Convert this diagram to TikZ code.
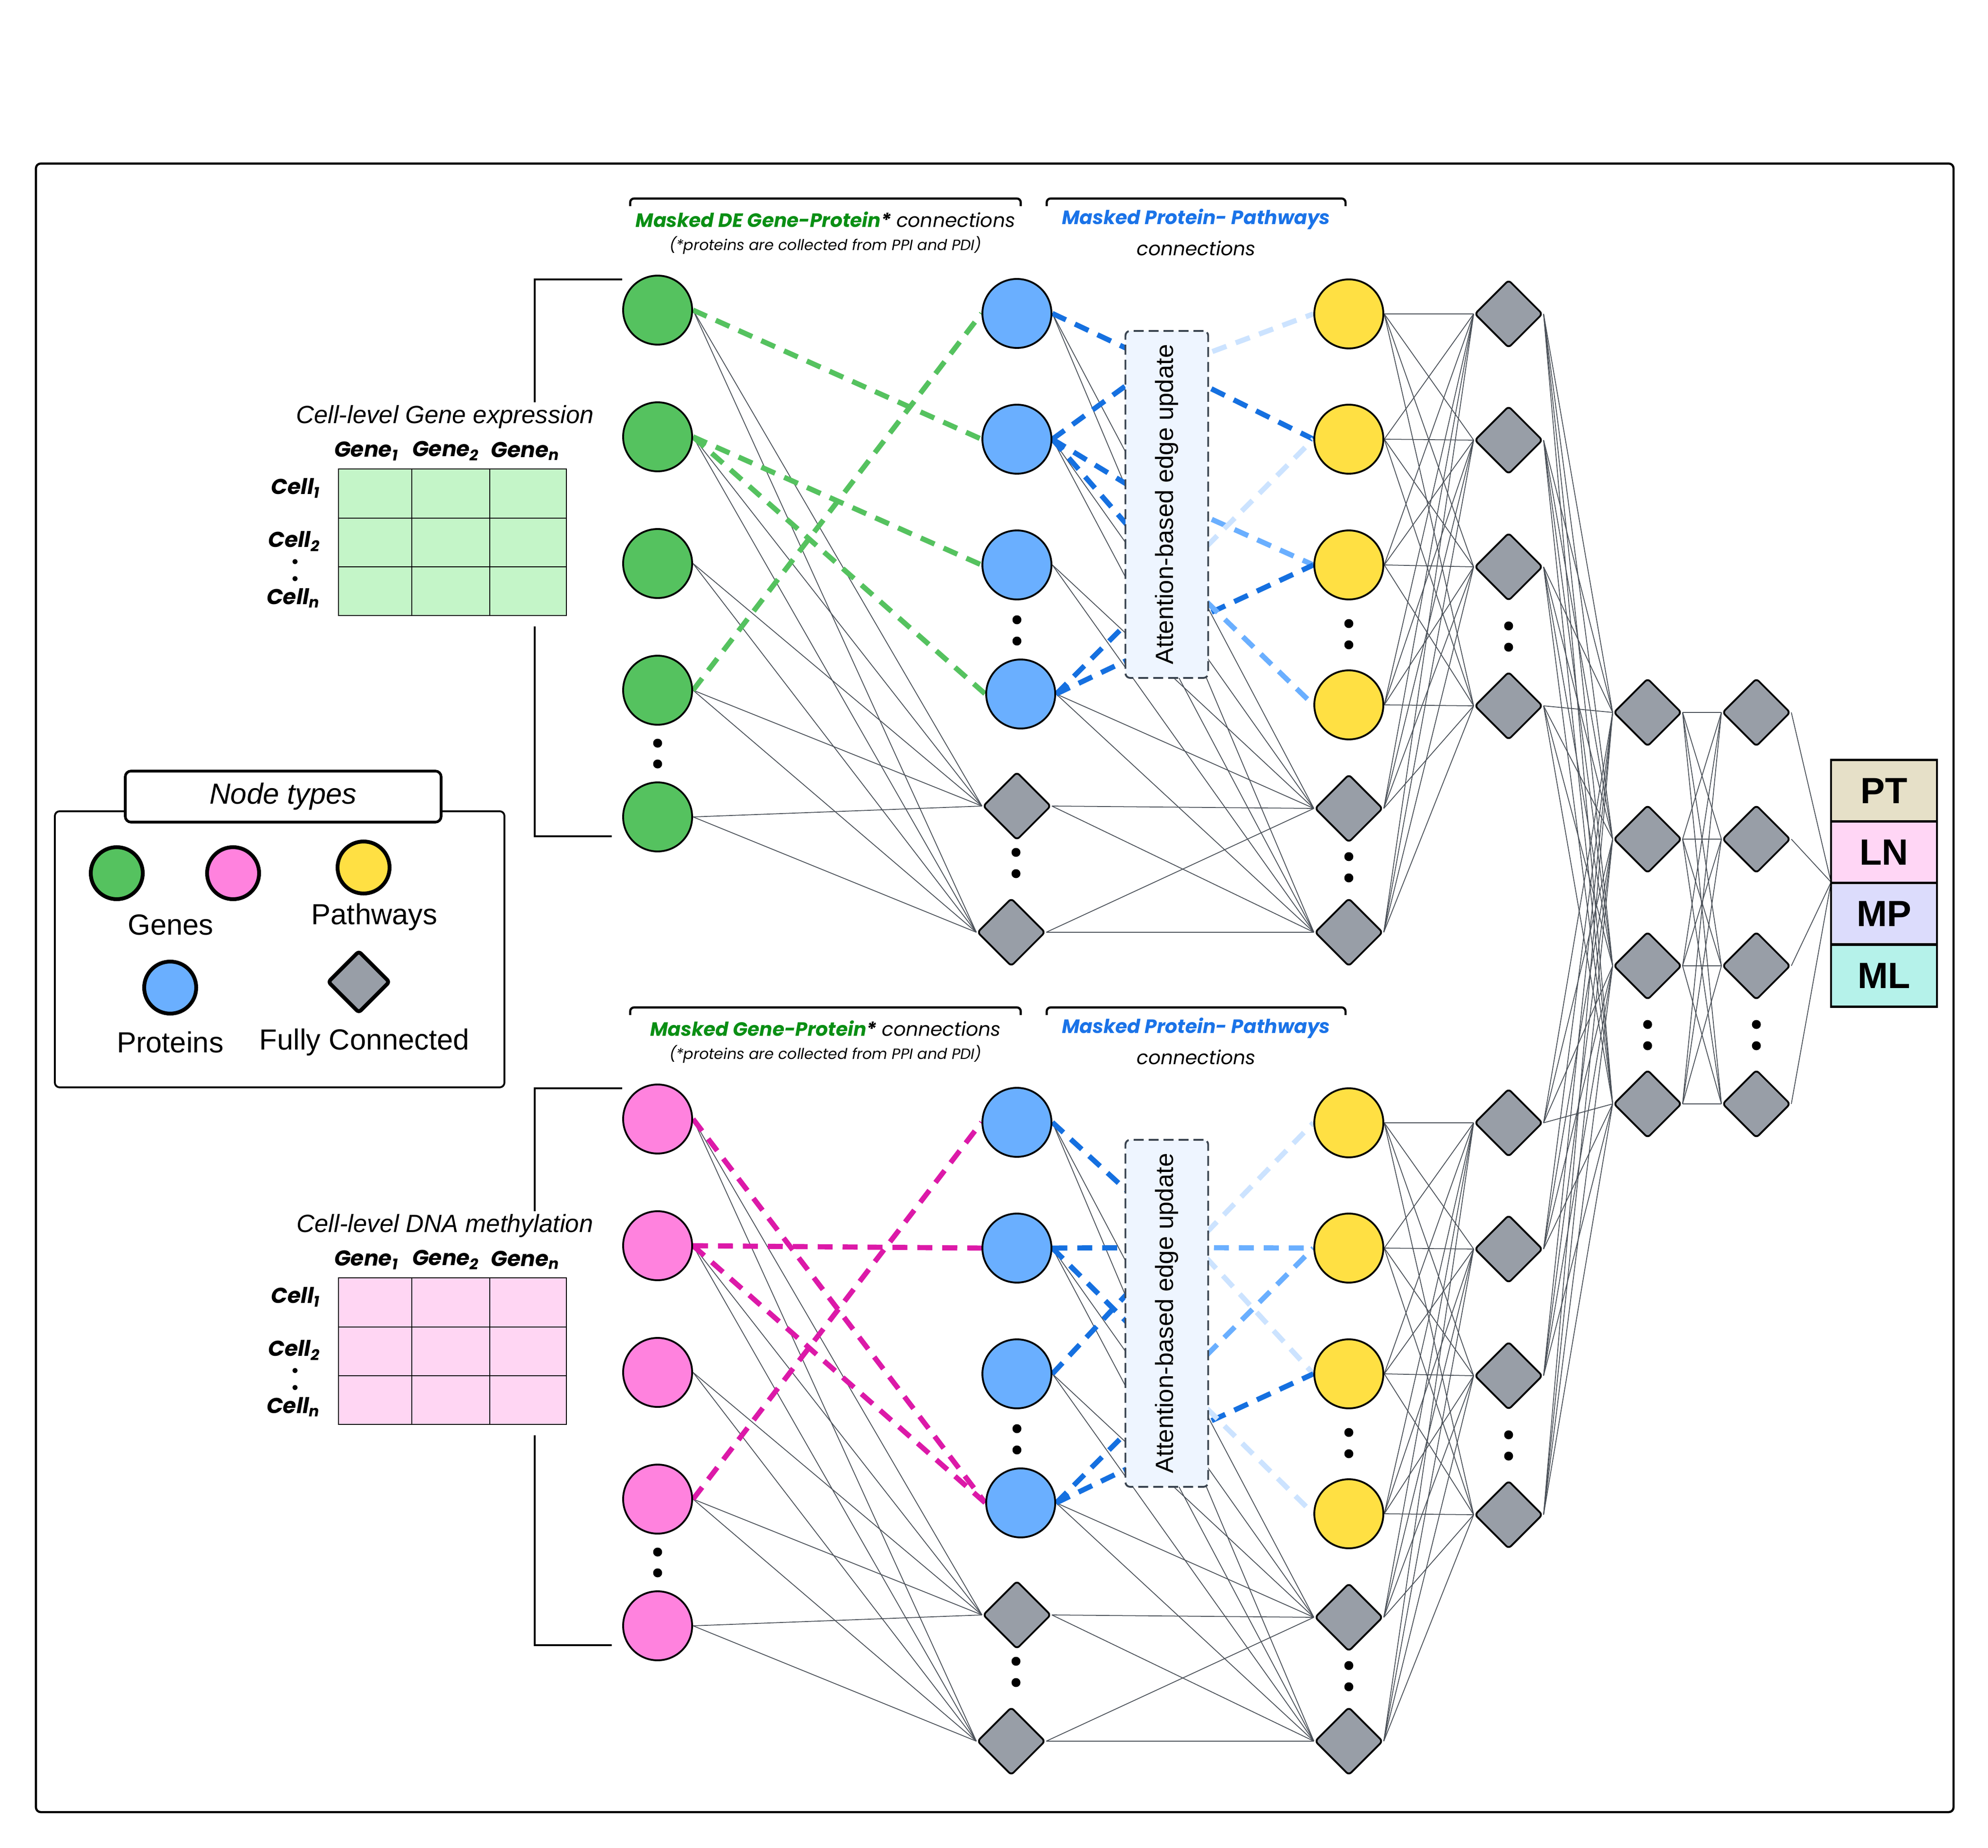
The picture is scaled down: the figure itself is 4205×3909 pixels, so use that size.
\documentclass[tikz,border=0pt]{standalone}
\usepackage{fontspec}
\setmainfont{Liberation Sans}
\newfontfamily\popf{Poppins}
\usetikzlibrary{shapes.geometric}
\pgfdeclarelayer{bg}
\pgfsetlayers{bg,main}
\definecolor{genegreen}{HTML}{55C25F}
\definecolor{genepink}{HTML}{FF82DE}
\definecolor{protblue}{HTML}{6AAFFF}
\definecolor{pathyel}{HTML}{FFE043}
\definecolor{fcgray}{HTML}{989EA7}
\definecolor{edgegray}{HTML}{4A5058}
\definecolor{dgreen}{HTML}{55C25F}
\definecolor{dpink}{HTML}{DC19A8}
\definecolor{bdark}{HTML}{1570E0}
\definecolor{bmed}{HTML}{6AAFFF}
\definecolor{blight}{HTML}{CCE3FF}
\definecolor{tgreen}{HTML}{0A8F14}
\definecolor{tblue}{HTML}{1A73E8}
\definecolor{attfill}{HTML}{EEF5FF}
\definecolor{attline}{HTML}{3A4450}
\definecolor{ptc}{HTML}{E6E0C8}
\definecolor{lnc}{HTML}{FFD6F5}
\definecolor{mpc}{HTML}{DCDCFC}
\definecolor{mlc}{HTML}{B5F2EA}
\definecolor{mgreen}{HTML}{C4F5C8}
\definecolor{mpink}{HTML}{FFD6F3}
\newcommand{\fsz}[1]{\fontsize{#1}{#1}\selectfont}
\tikzset{
  circ/.style={circle,draw=black,line width=1.1pt,minimum size=14.6mm,inner sep=0pt},
  fc/.style={diamond,draw=black,line width=1.1pt,fill=fcgray,minimum width=14.4mm,minimum height=14.4mm,inner sep=0pt,rounded corners=0.7mm},
  thinedge/.style={draw=edgegray,line width=0.5pt},
  maskedge/.style={line width=3.1pt,dash pattern=on 9pt off 6pt},
  ell/.style={circle,fill=black,inner sep=0pt,minimum size=1.9mm},
  cdot/.style={circle,fill=black,inner sep=0pt,minimum size=1.1mm},
  topbr/.style={line width=1.3pt,rounded corners=0.8mm},
  sidebr/.style={line width=1.1pt},
  att/.style={draw=attline,fill=attfill,line width=1.1pt,dash pattern=on 6pt off 3pt,rounded corners=1mm,minimum width=17.5mm,minimum height=73.4mm,inner sep=0pt},
  lbl/.style={inner sep=0pt},
  outcell/.style={draw=black,line width=1.3pt,minimum width=22.4mm,minimum height=13.05mm,inner sep=0pt,font=\fsz{22}\bfseries},
  legc/.style={circle,draw=black,line width=2.3pt,minimum size=11mm,inner sep=0pt},
  legd/.style={diamond,draw=black,line width=2.3pt,fill=fcgray,minimum width=13.2mm,minimum height=13.2mm,inner sep=0pt,rounded corners=0.6mm},
  legtxt/.style={inner sep=0pt,font=\fsz{17.5}},
  hdr/.style={inner sep=0pt,font=\popf\fsz{13}\bfseries\itshape},
}
\begin{document}
\begin{tikzpicture}[x=0.1mm,y=-0.1mm]
\useasboundingbox (0,0) rectangle (4205,3909);
\draw[line width=1.3pt,rounded corners=1mm] (76,346) rectangle (4132,3833);

% ---------- two sections ----------
\foreach \s/\o/\gc/\mc in {t/0/genegreen/mgreen,b/1711/genepink/mpink}{
\begin{scope}[shift={(0,\o)}]
  \foreach \i/\y in {1/656,2/924,3/1192,4/1460,5/1728}
    \node[circ,fill=\gc] (\s-g\i) at (1391,\y) {};
  \node[circ,fill=protblue] (\s-b1) at (2151,663) {};
  \node[circ,fill=protblue] (\s-b2) at (2151,929) {};
  \node[circ,fill=protblue] (\s-b3) at (2151,1195) {};
  \node[circ,fill=protblue] (\s-b4) at (2159,1468) {};
  \node[fc] (\s-pd1) at (2151,1705) {};
  \node[fc] (\s-pd2) at (2139,1972) {};
  \node[circ,fill=pathyel] (\s-y1) at (2853,664) {};
  \node[circ,fill=pathyel] (\s-y2) at (2853,929) {};
  \node[circ,fill=pathyel] (\s-y3) at (2853,1195) {};
  \node[circ,fill=pathyel] (\s-y4) at (2853,1491) {};
  \node[fc] (\s-y5) at (2853,1710) {};
  \node[fc] (\s-y6) at (2853,1972) {};
  \node[fc] (\s-c1) at (3191,664) {};
  \node[fc] (\s-c2) at (3191,931) {};
  \node[fc] (\s-c3) at (3191,1199) {};
  \node[fc] (\s-c4) at (3191,1493) {};
  % ellipsis dots
  \foreach \x/\ya/\yb in {1391/1572/1616,2151/1311/1356,2149/1803/1848,2853/1319/1364,2853/1812/1857,3191/1324/1369}{
    \node[ell] at (\x,\ya) {};
    \node[ell] at (\x,\yb) {};
  }
  % attention box
  \node[att] (\s-att) at (2468,1067) {};
  \node[rotate=90,inner sep=0pt,font=\fsz{15}] at (\s-att) {Attention-based edge update};
  % top brackets
  \draw[topbr] (1333,436) -- (1333,420) -- (2159,420) -- (2159,436);
  \draw[topbr] (2214,436) -- (2214,420) -- (2846,420) -- (2846,436);
  % side bracket
  \draw[sidebr] (1316,591) -- (1131,591) -- (1131,851);
  \draw[sidebr] (1131,1325) -- (1131,1769) -- (1294,1769);
  % matrix
  \draw[line width=0.6pt,fill=\mc] (716,992) rectangle (1198,1302);
  \draw[line width=0.6pt] (871,992) -- (871,1302) (1036,992) -- (1036,1302)
        (716,1096) -- (1198,1096) (716,1199) -- (1198,1199);
  \node[hdr] at (775,954) {Gene\textsubscript{1}};
  \node[hdr] at (943,954) {Gene\textsubscript{2}};
  \node[hdr] at (1111,954) {Gene\textsubscript{n}};
  \node[hdr,anchor=east] at (678,1033) {Cell\textsubscript{1}};
  \node[hdr,anchor=east] at (678,1145) {Cell\textsubscript{2}};
  \node[hdr,anchor=east] at (678,1265) {Cell\textsubscript{n}};
  \node[cdot] at (624,1188) {};
  \node[cdot] at (624,1224) {};
  % titles
  \node[lbl,font=\popf\fsz{9}\itshape] at (1746,519) {(*proteins are collected from PPI and PDI)};
  \node[lbl,font=\popf\fsz{11.6}\bfseries\itshape,text=tblue] at (2530,464) {Masked Protein- Pathways};
  \node[lbl,font=\popf\fsz{11.6}\itshape] at (2530,525) {connections};
\end{scope}
}

% section specific texts
\node[lbl,font=\popf\fsz{11.6}] at (1746,464) {{\bfseries\itshape\color{tgreen}Masked DE Gene-Protein}{\bfseries\itshape *} \textit{connections}};
\node[lbl,font=\popf\fsz{11.6}] at (1746,2175) {{\bfseries\itshape\color{tgreen}Masked Gene-Protein}{\bfseries\itshape *} \textit{connections}};
\node[lbl,font=\fsz{15}\itshape] at (941,882) {Cell-level Gene expression};
\node[lbl,font=\fsz{15}\itshape] at (941,2593) {Cell-level DNA methylation};

% right part
\foreach \i/\y in {1/1507,2/1775,3/2043,4/2335}{
  \node[fc] (k\i) at (3485,\y) {};
  \node[fc] (m\i) at (3715,\y) {};
}
\foreach \x in {3485,3715}{
  \node[ell] at (\x,2167) {};
  \node[ell] at (\x,2212) {};
}
\node[outcell,fill=ptc] (pt) at (3985,1673) {PT};
\node[outcell,fill=lnc] (ln) at (3985,1803) {LN};
\node[outcell,fill=mpc] (mp) at (3985,1932.5) {MP};
\node[outcell,fill=mlc] (ml) at (3985,2064) {ML};
\coordinate (outw) at (3873,1866);

% legend
\draw[line width=1.1pt,rounded corners=1mm] (116,1716) rectangle (1067,2300);
\node[draw,line width=1.6pt,rounded corners=1.2mm,fill=white,minimum width=66.8mm,minimum height=10.8mm,inner sep=0pt,font=\fsz{17.5}\itshape] (legtitle) at (599,1685) {Node types};
\node[legc,fill=genegreen] (lg) at (247,1847) {};
\node[legc,fill=genepink] (lp) at (493,1847) {};
\node[legc,fill=pathyel] (ly) at (769,1835) {};
\node[legc,fill=protblue] (lb) at (360,2089) {};
\node[legd] (ld) at (759,2077) {};
\node[legtxt] at (361,1956) {Genes};
\node[legtxt] at (792,1940) {Pathways};
\node[legtxt] at (360,2205) {Proteins};
\node[legtxt] at (771,2205) {Fully Connected};

% ---------- edges ----------
\begin{pgfonlayer}{bg}
\foreach \s in {t,b}{
  \foreach \i in {1,...,5}{
    \draw[thinedge] (\s-g\i.east) -- (\s-pd1.west);
    \draw[thinedge] (\s-g\i.east) -- (\s-pd2.west);
  }
  \foreach \i in {1,...,4}{
    \draw[thinedge] (\s-b\i.east) -- (\s-y5.west);
    \draw[thinedge] (\s-b\i.east) -- (\s-y6.west);
  }
  \foreach \i in {1,2}{
    \draw[thinedge] (\s-pd\i.east) -- (\s-y5.west);
    \draw[thinedge] (\s-pd\i.east) -- (\s-y6.west);
  }
  \foreach \i in {1,...,6}{
    \foreach \j in {1,...,4}{
      \draw[thinedge] (\s-y\i.east) -- (\s-c\j.west);
    }
  }
  \foreach \i in {1,...,4}{
    \foreach \j in {1,...,4}{
      \draw[thinedge] (\s-c\i.east) -- (k\j.west);
    }
  }
}
\foreach \i in {1,...,4}{
  \foreach \j in {1,...,4}{
    \draw[thinedge] (k\i.east) -- (m\j.west);
  }
  \draw[thinedge] (m\i.east) -- (outw);
}

% masked gene-protein edges
\draw[maskedge,dgreen] (t-g1.east) -- (t-b2.west);
\draw[maskedge,dgreen] (t-g2.east) -- (t-b3.west);
\draw[maskedge,dgreen] (t-g2.east) -- (t-b4.west);
\draw[maskedge,dgreen] (t-g4.east) -- (t-b1.west);
\draw[maskedge,dpink] (b-g1.east) -- (b-b4.west);
\draw[maskedge,dpink] (b-g2.east) -- (b-b2.west);
\draw[maskedge,dpink] (b-g2.east) -- (b-b4.west);
\draw[maskedge,dpink] (b-g4.east) -- (b-b1.west);

% top protein-pathway (through attention box)
\coordinate (tla) at (2421,755);  \coordinate (tlb) at (2421,787);
\coordinate (tlc) at (2421,1047); \coordinate (tld) at (2421,1153);
\coordinate (tle) at (2421,1281); \coordinate (tlf) at (2421,1379);
\coordinate (trg) at (2515,762);  \coordinate (trh) at (2515,799);
\coordinate (tri) at (2515,1077); \coordinate (trj) at (2515,1193);
\coordinate (trk) at (2515,1317); \coordinate (trl) at (2515,1237);
\draw[maskedge,bdark] (t-b1.east) -- (tla);
\draw[maskedge,bdark] (t-b2.east) -- (tlb);
\draw[maskedge,bdark] (t-b2.east) -- (tlc);
\draw[maskedge,bdark] (t-b2.east) -- (tld);
\draw[maskedge,bdark] (t-b4.east) -- (tle);
\draw[maskedge,bdark] (t-b4.east) -- (tlf);
\draw[maskedge,blight] (trg) -- (t-y1.west);
\draw[maskedge,bdark] (trh) -- (t-y2.west);
\draw[maskedge,bmed] (tri) -- (t-y3.west);
\draw[maskedge,blight] (trj) -- (t-y2.west);
\draw[maskedge,bdark] (trk) -- (t-y3.west);
\draw[maskedge,bmed] (trl) -- (t-y4.west);

% bottom protein-pathway
\begin{scope}[shift={(0,1711)}]
\coordinate (bla) at (2421,842);  \coordinate (blb) at (2421,928);
\coordinate (blc) at (2421,1123); \coordinate (bld) at (2421,986);
\coordinate (ble) at (2421,1281); \coordinate (blf) at (2421,1378);
\coordinate (brg) at (2515,934);  \coordinate (brh) at (2515,928);
\coordinate (bri) at (2515,910);  \coordinate (brj) at (2515,1193);
\coordinate (brk) at (2515,1316); \coordinate (brl) at (2515,1231);
\end{scope}
\draw[maskedge,bdark] (b-b1.east) -- (bla);
\draw[maskedge,bdark] (b-b2.east) -- (blb);
\draw[maskedge,bdark] (b-b2.east) -- (blc);
\draw[maskedge,bdark] (b-b3.east) -- (bld);
\draw[maskedge,bdark] (b-b4.east) -- (ble);
\draw[maskedge,bdark] (b-b4.east) -- (blf);
\draw[maskedge,blight] (brg) -- (b-y1.west);
\draw[maskedge,bmed] (brh) -- (b-y2.west);
\draw[maskedge,blight] (bri) -- (b-y3.west);
\draw[maskedge,bmed] (brj) -- (b-y2.west);
\draw[maskedge,bdark] (brk) -- (b-y3.west);
\draw[maskedge,blight] (brl) -- (b-y4.west);
\end{pgfonlayer}
\end{tikzpicture}
\end{document}
